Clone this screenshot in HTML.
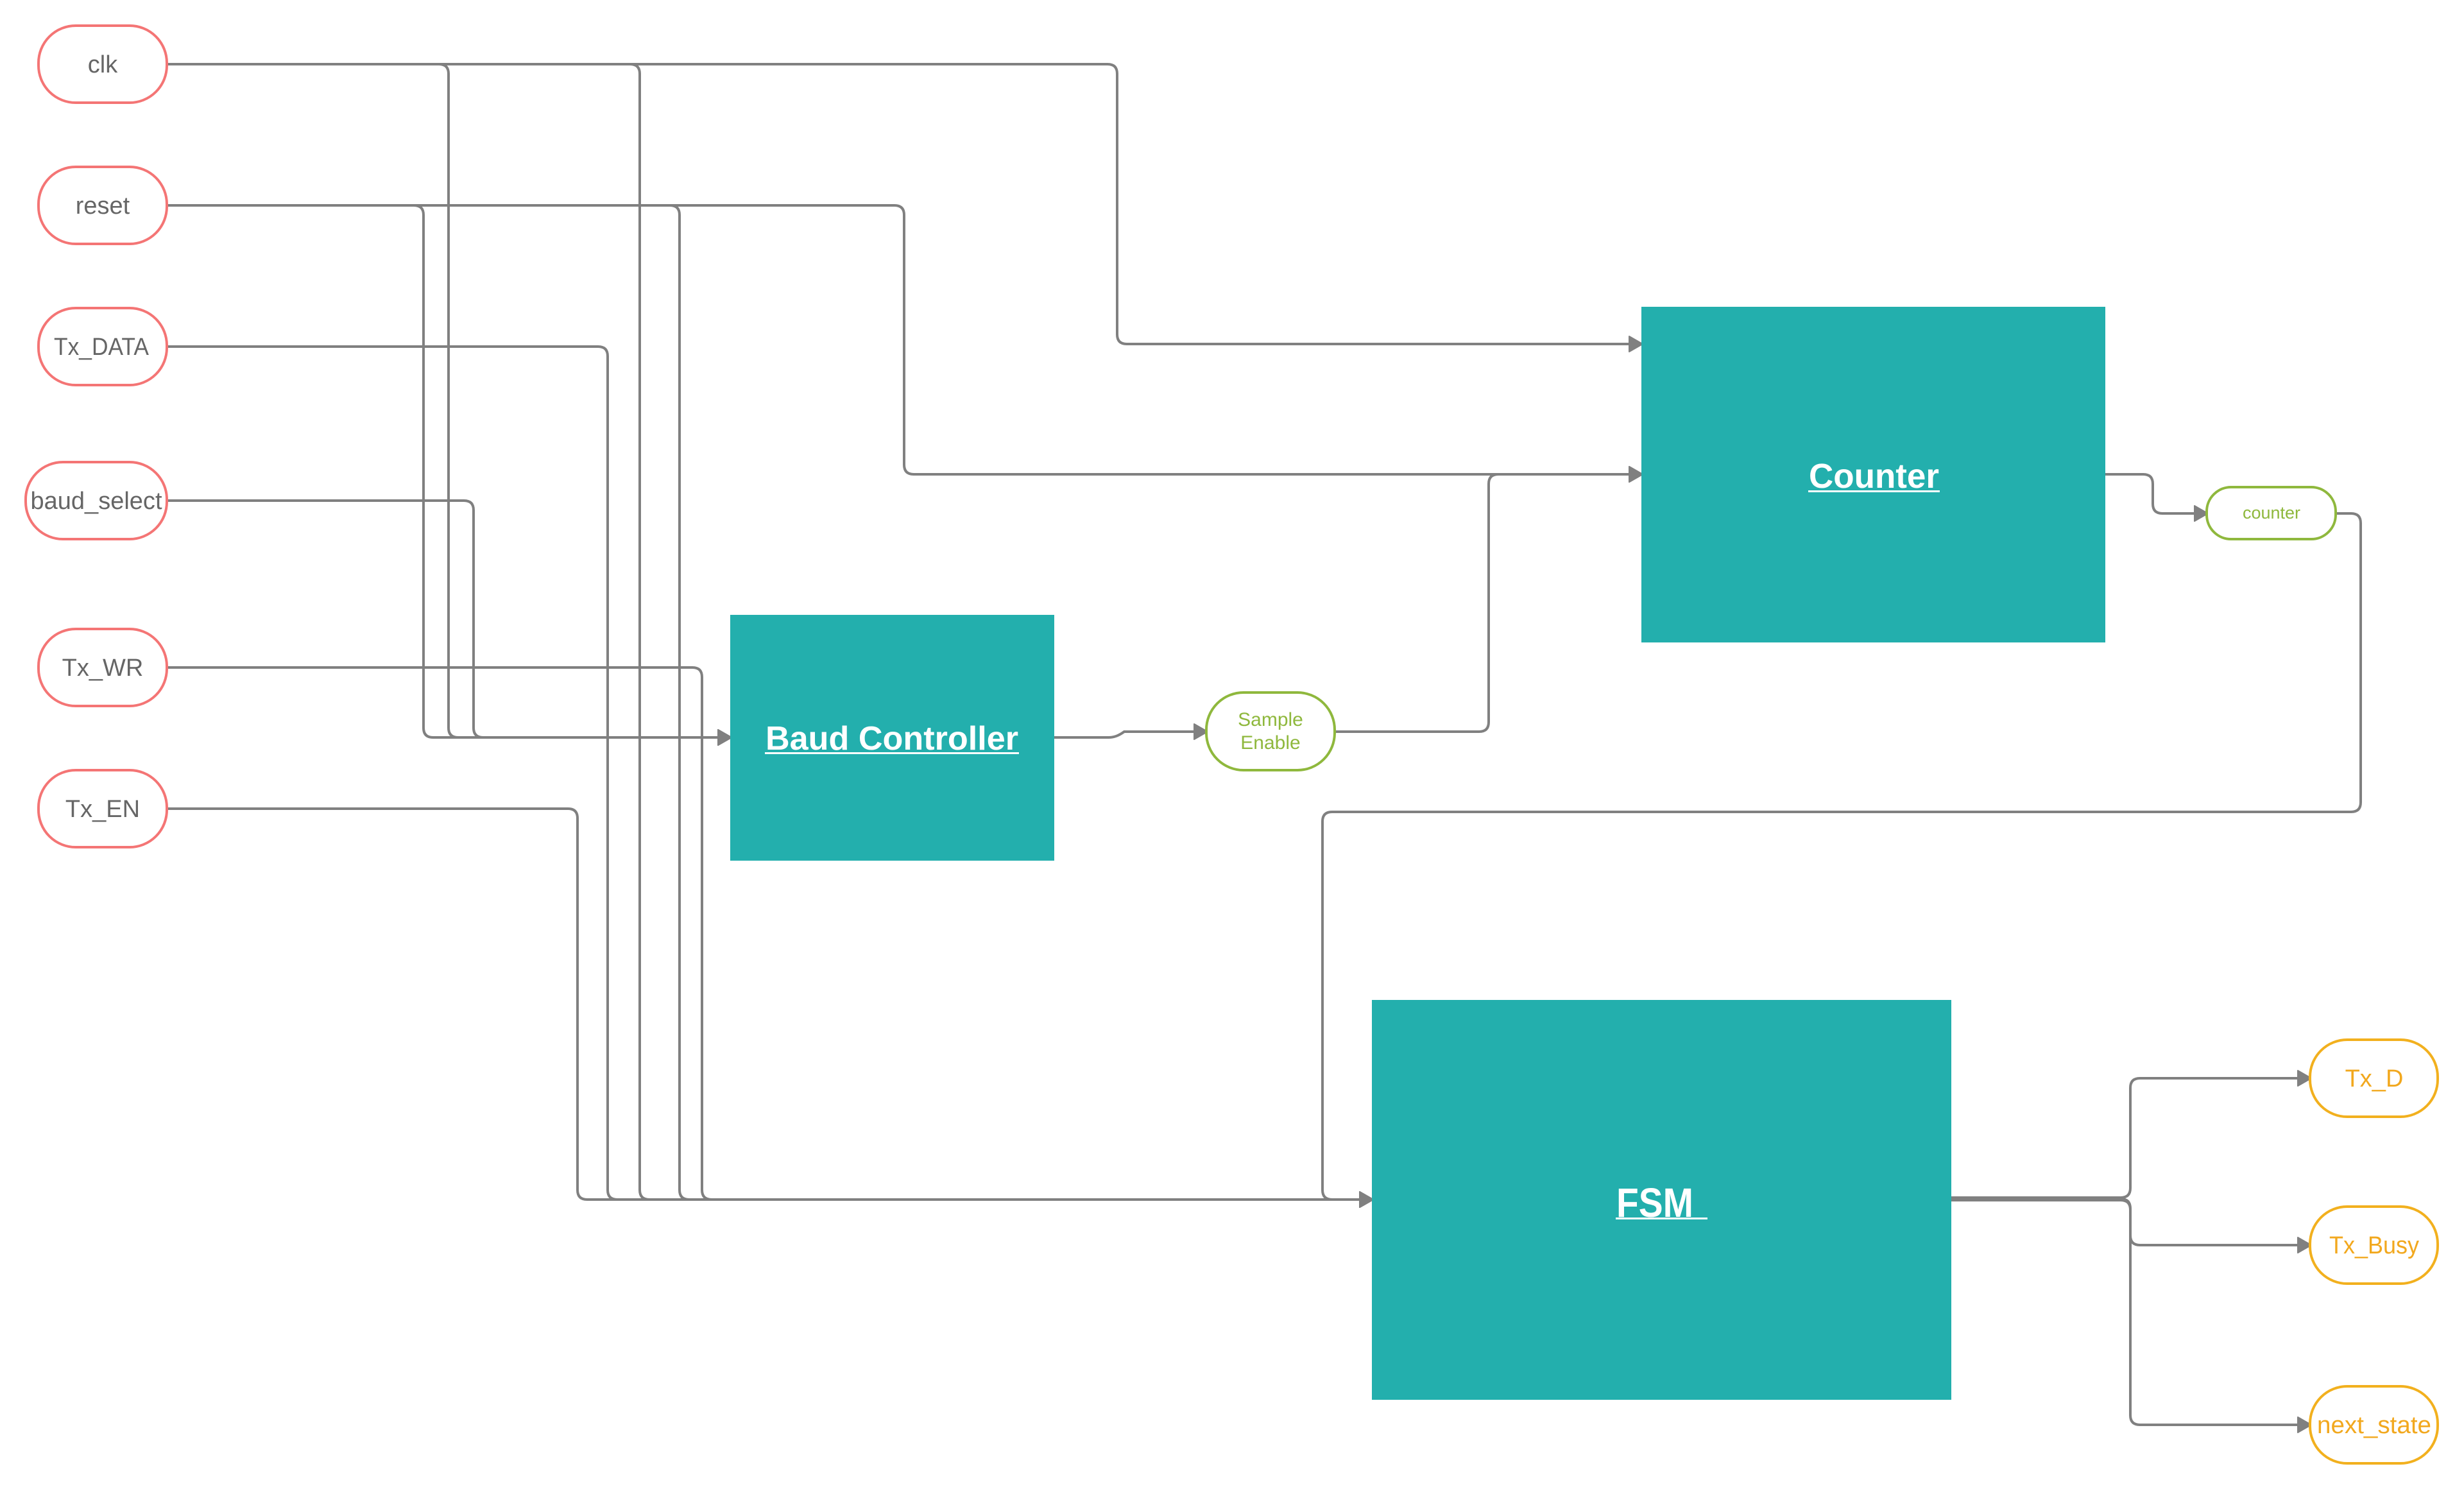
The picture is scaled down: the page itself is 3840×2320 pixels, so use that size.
<!DOCTYPE html>
<html><head><meta charset="utf-8"><style>html,body{margin:0;padding:0;background:#fff}svg{display:block}</style></head>
<body>
<svg width="3840" height="2320" viewBox="0 0 3840 2320" xmlns="http://www.w3.org/2000/svg" font-family="Liberation Sans, sans-serif">
<defs>
<marker id="a" markerUnits="userSpaceOnUse" markerWidth="24" markerHeight="28" refX="22" refY="13" orient="auto">
<path d="M1,1 L22,13 L1,25 Z" fill="#808080" stroke="#808080" stroke-width="2" stroke-linejoin="round"/>
</marker>
</defs>
<rect width="3840" height="2320" fill="#fff"/>
<g fill="none" stroke="#808080" stroke-width="4">
<path d="M260,100 H1726 Q1741,100 1741,115 V521 Q1741,536 1756,536 H2560" marker-end="url(#a)"/>
<path d="M260,100 H684 Q699,100 699,115 V1134 Q699,1149 714,1149 H1140" marker-end="url(#a)"/>
<path d="M260,100 H982 Q997,100 997,115 V1854 Q997,1869 1012,1869 H2140" marker-end="url(#a)"/>
<path d="M260,320 H1394 Q1409,320 1409,335 V724 Q1409,739 1424,739 H2560" marker-end="url(#a)"/>
<path d="M260,320 H645 Q660,320 660,335 V1134 Q660,1149 675,1149 H1140" marker-end="url(#a)"/>
<path d="M260,320 H1044 Q1059,320 1059,335 V1854 Q1059,1869 1074,1869 H2140" marker-end="url(#a)"/>
<path d="M260,540 H932 Q947,540 947,555 V1854 Q947,1869 962,1869 H2140" marker-end="url(#a)"/>
<path d="M260,780 H723 Q738,780 738,795 V1134 Q738,1149 753,1149 H1140" marker-end="url(#a)"/>
<path d="M260,1040 H1079 Q1094,1040 1094,1055 V1854 Q1094,1869 1109,1869 H2140" marker-end="url(#a)"/>
<path d="M260,1260 H885 Q900,1260 900,1275 V1854 Q900,1869 915,1869 H2140" marker-end="url(#a)"/>
<path d="M1643,1149 H1728 Q1740,1149 1752,1140 H1882" marker-end="url(#a)"/>
<path d="M2080,1140 H2305 Q2320,1140 2320,1125 V754 Q2320,739 2335,739 H2560" marker-end="url(#a)"/>
<path d="M3281,739 H3340 Q3355,739 3355,754 V785 Q3355,800 3370,800 H3441" marker-end="url(#a)"/>
<path d="M3640,800 H3664 Q3679,800 3679,815 V1250 Q3679,1265 3664,1265 H2076 Q2061,1265 2061,1280 V1854 Q2061,1869 2076,1869 H2140" marker-end="url(#a)"/>
<path d="M3041,1866 H3305 Q3320,1866 3320,1851 V1695 Q3320,1680 3335,1680 H3602" marker-end="url(#a)"/>
<path d="M3041,1870 H3305 Q3320,1870 3320,1885 V1925 Q3320,1940 3335,1940 H3602" marker-end="url(#a)"/>
<path d="M3041,1868 H3305 Q3320,1868 3320,1883 V2205 Q3320,2220 3335,2220 H3602" marker-end="url(#a)"/>
</g>
<rect x="2558" y="478" width="723" height="523" fill="#23afad"/>
<rect x="1138" y="958" width="505" height="383" fill="#23afad"/>
<rect x="2138" y="1558" width="903" height="623" fill="#23afad"/>
<g fill="#fff" font-weight="bold">
<text x="2819" y="760" font-size="54" textLength="203" lengthAdjust="spacingAndGlyphs">Counter</text>
<rect x="2818" y="764" width="205" height="3" fill="#fff"/>
<text x="1193" y="1168" font-size="52" textLength="394" lengthAdjust="spacingAndGlyphs">Baud Controller</text>
<rect x="1192" y="1172" width="396" height="3" fill="#fff"/>
<text x="2519" y="1896" font-size="64" textLength="120" lengthAdjust="spacingAndGlyphs">FSM</text>
<rect x="2518" y="1897" width="143" height="3" fill="#fff"/>
</g>
<g fill="#fff" stroke="#f47575" stroke-width="4">
<rect x="60" y="40" width="200" height="120" rx="58"/>
<rect x="60" y="260" width="200" height="120" rx="58"/>
<rect x="60" y="480" width="200" height="120" rx="58"/>
<rect x="40" y="720" width="220" height="120" rx="58"/>
<rect x="60" y="980" width="200" height="120" rx="58"/>
<rect x="60" y="1200" width="200" height="120" rx="58"/>
</g>
<g fill="#666" font-size="38" text-anchor="middle">
<text x="160" y="113">clk</text>
<text x="160" y="333">reset</text>
<text x="158" y="553" textLength="148" lengthAdjust="spacingAndGlyphs">Tx_DATA</text>
<text x="150" y="793" textLength="205" lengthAdjust="spacingAndGlyphs">baud_select</text>
<text x="160" y="1053">Tx_WR</text>
<text x="160" y="1273">Tx_EN</text>
</g>
<g fill="#fff" stroke="#8fb83d" stroke-width="4">
<rect x="1880" y="1079" width="200" height="121" rx="58"/>
<rect x="3439" y="759" width="201" height="81" rx="38"/>
</g>
<g fill="#8fb83d" text-anchor="middle">
<text x="1980" y="1131" font-size="30">Sample</text>
<text x="1980" y="1167" font-size="30">Enable</text>
<text x="3540" y="808" font-size="27">counter</text>
</g>
<g fill="#fff" stroke="#f2b01e" stroke-width="4">
<rect x="3600" y="1620" width="199" height="120" rx="58"/>
<rect x="3600" y="1880" width="199" height="120" rx="58"/>
<rect x="3600" y="2160" width="199" height="120" rx="58"/>
</g>
<g fill="#f2a81e" font-size="38" text-anchor="middle">
<text x="3700" y="1693">Tx_D</text>
<text x="3700" y="1953" textLength="140" lengthAdjust="spacingAndGlyphs">Tx_Busy</text>
<text x="3700" y="2233" textLength="178" lengthAdjust="spacingAndGlyphs">next_state</text>
</g>
</svg>
</body></html>
